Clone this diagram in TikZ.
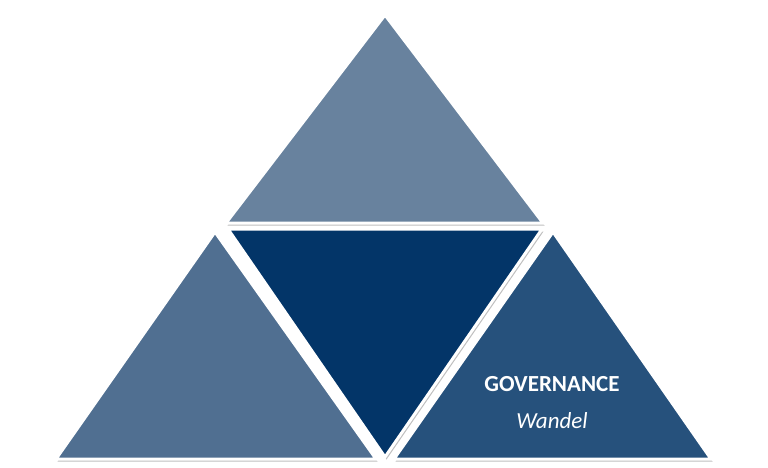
\documentclass[tikz,border=0pt]{standalone}
\usepackage{fontspec}
\setmainfont{Carlito}
\usetikzlibrary{shadows}
\definecolor{ctop}{RGB}{104,130,158}
\definecolor{cleft}{RGB}{80,111,145}
\definecolor{cmid}{RGB}{3,53,104}
\definecolor{cright}{RGB}{38,81,124}
\begin{document}
\begin{tikzpicture}[x=1pt,y=-1pt,
  tri/.style={draw=white,line width=3pt,line join=miter,
    drop shadow={shadow xshift=1.5pt,shadow yshift=-2.5pt,opacity=0.25,fill=black}},
  lbl/.style={text=white}]
\useasboundingbox[fill=white] (0,0) rectangle (768,467);
\coordinate (tA) at (385,15);
\coordinate (tL) at (226,223);
\coordinate (tR) at (543,223);
\coordinate (lA) at (215,232);
\coordinate (lL) at (56,459);
\coordinate (lR) at (376,459);
\coordinate (rA) at (553,232);
\coordinate (rL) at (394,459);
\coordinate (rR) at (711,459);
\coordinate (mL) at (228,229);
\coordinate (mR) at (542,229);
\coordinate (mB) at (385,457);
\fill[ctop,tri] (tA) -- (tR) -- (tL) -- cycle;
\fill[cleft,tri] (lA) -- (lR) -- (lL) -- cycle;
\fill[cright,tri] (rA) -- (rR) -- (rL) -- cycle;
\fill[cmid,tri] (mL) -- (mR) -- (mB) -- cycle;
\node[lbl,font=\fontsize{23}{26}\selectfont\bfseries] (gov) at (552,384) {GOVERNANCE};
\node[lbl,font=\fontsize{23}{26}\selectfont\itshape] (wan) at (552,421) {Wandel};
\end{tikzpicture}
\end{document}
